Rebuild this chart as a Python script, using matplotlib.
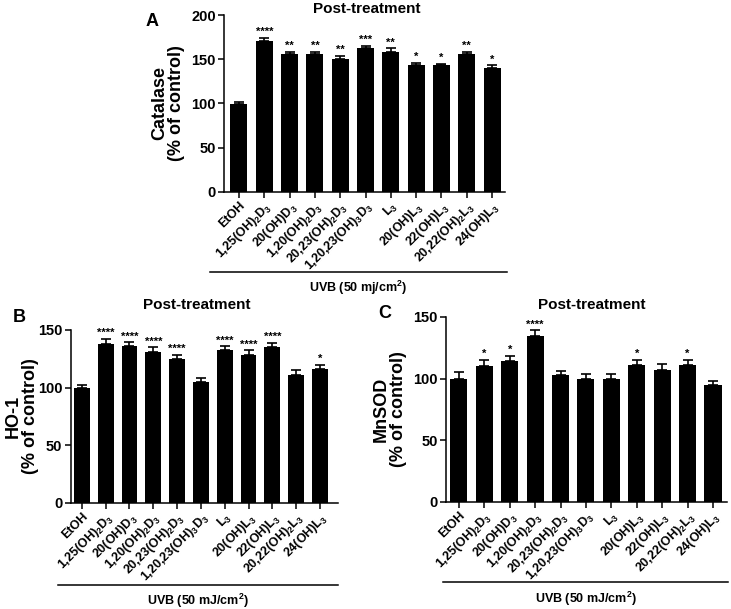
import matplotlib
matplotlib.use("Agg")
import matplotlib.pyplot as plt
import numpy as np

# police type Arial en gras
plt.rcParams['font.family'] = ['Liberation Sans', 'DejaVu Sans']
plt.rcParams['font.weight'] = 'bold'
plt.rcParams['axes.labelweight'] = 'bold'
plt.rcParams['mathtext.fontset'] = 'custom'
plt.rcParams['mathtext.rm'] = 'Liberation Sans:bold'
plt.rcParams['mathtext.bf'] = 'Liberation Sans:bold'
plt.rcParams['mathtext.default'] = 'bf'

# donnees
groupes = ["EtOH", "1,25(OH)$_2$D$_3$", "20(OH)D$_3$", "1,20(OH)$_2$D$_3$",
           "20,23(OH)$_2$D$_3$", "1,20,23(OH)$_3$D$_3$", "L$_3$", "20(OH)L$_3$",
           "22(OH)L$_3$", "20,22(OH)$_2$L$_3$", "24(OH)L$_3$"]

catalase = [99.6, 171, 155.6, 156, 150.7, 162.4, 158.6, 142.9, 142.9, 156, 140.2]
catalase_err = [2.4, 3, 3, 2.6, 3, 3, 4, 3, 2, 2.6, 3]
catalase_sig = ["", "****", "**", "**", "**", "***", "**", "*", "*", "**", "*"]

ho1 = [99.4, 137.4, 136.2, 131, 125, 104.6, 132.5, 128.7, 135, 111, 115.8]
ho1_err = [3, 5, 3, 4, 3.5, 3.5, 3.5, 3.8, 3.8, 4.5, 4]
ho1_sig = ["", "****", "****", "****", "****", "", "****", "****", "****", "", "*"]

mnsod = [99.7, 110.5, 114.6, 134.3, 103, 100, 99.5, 110.8, 107.3, 110.8, 95]
mnsod_err = [5.3, 5, 3.8, 5, 3.5, 3.8, 4.3, 4.6, 4.7, 4.6, 3.4]
mnsod_sig = ["", "*", "*", "****", "", "", "", "*", "", "*", ""]

fig = plt.figure(figsize=(7.31, 6.09), dpi=100)


def panneau(pos, valeurs, err, sig, ymax, ylabel, ylabel_x, xlim, uvb, uvb_y, uvb_x):
    ax = fig.add_axes(pos)
    x = np.arange(len(valeurs))
    ax.bar(x, valeurs, width=0.67, color='black')
    ax.errorbar(x, valeurs, yerr=[np.zeros(len(err)), err], fmt='none',
                ecolor='black', elinewidth=1.2, capsize=3.6, capthick=1.2)
    for xi, v, e, s in zip(x, valeurs, err, sig):
        if s:
            ax.text(xi, v + e + ymax * 0.004, s, ha='center', va='bottom',
                    fontsize=8)
    ax.set_ylim(0, ymax)
    ax.set_xlim(xlim)
    ax.set_yticks(np.arange(0, ymax + 1, 50))
    ax.set_xticks(x)
    ax.set_xticklabels(groupes, rotation=45, ha='right', rotation_mode='anchor',
                       fontsize=9)
    ax.tick_params(axis='y', labelsize=10.5, width=1.1, length=4, pad=2)
    ax.tick_params(axis='x', width=1.1, length=4, pad=1.5)
    ax.spines['top'].set_visible(False)
    ax.spines['right'].set_visible(False)
    ax.spines['left'].set_linewidth(1.1)
    ax.spines['bottom'].set_linewidth(1.1)
    ax.set_ylabel(ylabel, fontsize=13, linespacing=1.0, ha='center', va='center')
    ax.yaxis.set_label_coords(ylabel_x, 0.5)
    # trait UVB sous les etiquettes
    ax.plot(uvb_x, [uvb_y, uvb_y], color='black', lw=1.1,
            transform=ax.transAxes, clip_on=False)
    ax.text(sum(uvb_x) / 2, uvb_y - 0.04, uvb, ha='center', va='top',
            fontsize=9, transform=ax.transAxes)
    return ax


axA = panneau([0.3068, 0.6852, 0.3840, 0.2901], catalase, catalase_err,
              catalase_sig, 200, "Catalase\n(% of control)", -0.20, (-0.58, 10.51),
              "UVB (50 mj/cm$^2$)", -0.454, [-0.051, 1.007])
axB = panneau([0.0967, 0.1741, 0.3657, 0.2841], ho1, ho1_err, ho1_sig, 150,
              "HO-1\n(% of control)", -0.182, (-0.47, 10.76),
              "UVB (50 mJ/cm$^2$)", -0.474, [-0.0475, 1.0])
axC = panneau([0.6101, 0.1757, 0.3844, 0.3038], mnsod, mnsod_err, mnsod_sig, 150,
              "MnSOD\n(% of control)", -0.20, (-0.51, 10.55),
              "UVB (50 mJ/cm$^2$)", -0.432, [-0.011, 1.004])

# titres et lettres des panneaux
fig.text(367 / 731, 1 - 9 / 609, "Post-treatment", ha='center', va='center', fontsize=11)
fig.text(197 / 731, 1 - 305 / 609, "Post-treatment", ha='center', va='center', fontsize=11)
fig.text(592 / 731, 1 - 305 / 609, "Post-treatment", ha='center', va='center', fontsize=11)
fig.text(152 / 731, 1 - 22 / 609, "A", ha='center', va='center', fontsize=13)
fig.text(19 / 731, 1 - 318 / 609, "B", ha='center', va='center', fontsize=13)
fig.text(385 / 731, 1 - 313 / 609, "C", ha='center', va='center', fontsize=13)

plt.savefig("out.png", dpi=100)
